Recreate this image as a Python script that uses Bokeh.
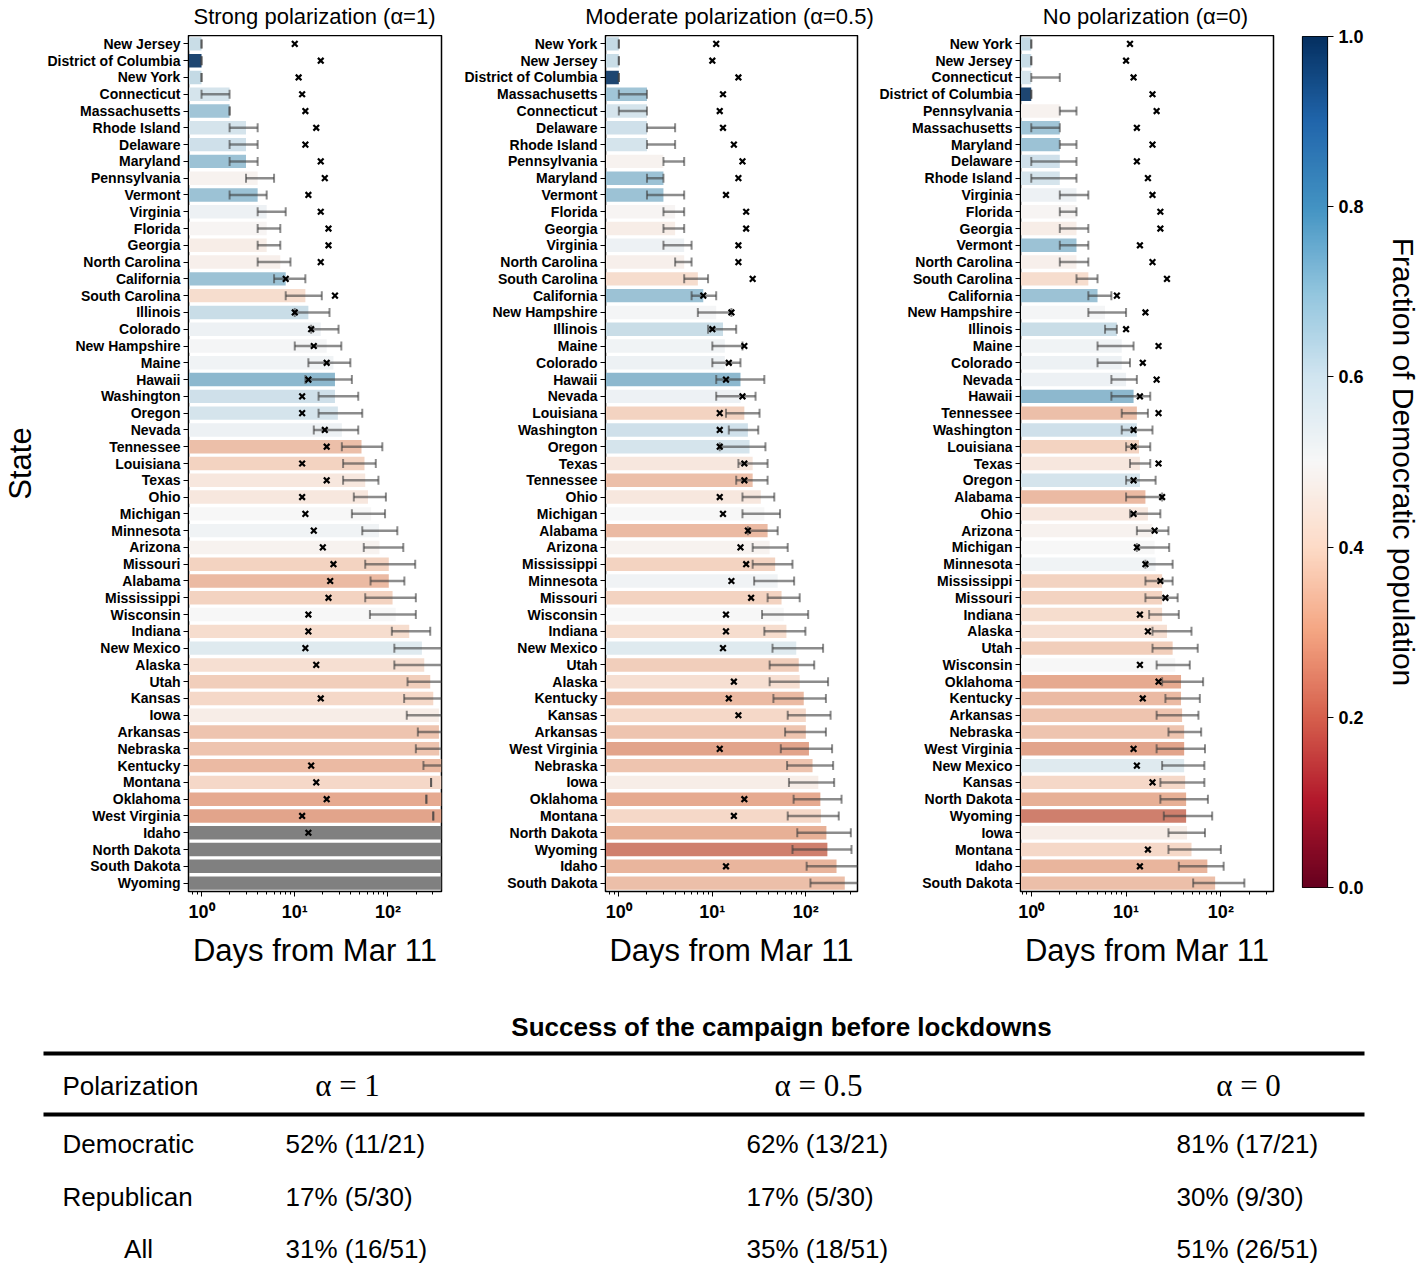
import colorsys
import numpy as np
from bokeh.plotting import figure
from bokeh.models import (FactorRange, Range1d, FixedTicker, ColumnDataSource,
                          LinearColorMapper, NumeralTickFormatter)
from bokeh.layouts import column, row
from bokeh.embed import file_html
from bokeh.resources import INLINE
from bokeh.core.properties import value

nan = np.nan

# ---------------- data ----------------
STATES = ["Alabama", "Alaska", "Arizona", "Arkansas", "California", "Colorado", "Connecticut",
          "Delaware", "District of Columbia", "Florida", "Georgia", "Hawaii", "Idaho", "Illinois",
          "Indiana", "Iowa", "Kansas", "Kentucky", "Louisiana", "Maine", "Maryland",
          "Massachusetts", "Michigan", "Minnesota", "Mississippi", "Missouri", "Montana",
          "Nebraska", "Nevada", "New Hampshire", "New Jersey", "New Mexico", "New York",
          "North Carolina", "North Dakota", "Ohio", "Oklahoma", "Oregon", "Pennsylvania",
          "Rhode Island", "South Carolina", "South Dakota", "Tennessee", "Texas", "Utah",
          "Vermont", "Virginia", "Washington", "West Virginia", "Wisconsin", "Wyoming"]
DEM_FRACTION = [0.33, 0.41, 0.48, 0.35, 0.70, 0.53, 0.60,
                0.61, 0.96, 0.49, 0.46, 0.72, 0.32, 0.62,
                0.40, 0.46, 0.39, 0.33, 0.38, 0.52, 0.70,
                0.69, 0.50, 0.52, 0.38, 0.38, 0.39,
                0.35, 0.53, 0.51, 0.62, 0.57, 0.63,
                0.47, 0.31, 0.44, 0.30, 0.60, 0.48,
                0.60, 0.40, 0.34, 0.34, 0.44, 0.37,
                0.70, 0.53, 0.61, 0.29, 0.50, 0.23]
LOCKDOWN_DAY = [24, 17, 20, nan, 8, 15, 12,
                13, 19, 23, 23, 14, 14, 10,
                14, nan, 19, 15, 12, 22, 19,
                13, 13, 16, 23, 26, 17,
                nan, 21, 16, 10, 13, 11,
                19, nan, 12, 22, 12, 21,
                17, 27, nan, 22, 22, nan,
                14, 19, 12, 12, 14, nan]

# alpha = 1 (strong polarization); NaN median = never reached
ORDER_A1 = ["New Jersey", "District of Columbia", "New York", "Connecticut", "Massachusetts",
            "Rhode Island", "Delaware", "Maryland", "Pennsylvania", "Vermont", "Virginia",
            "Florida", "Georgia", "North Carolina", "California", "South Carolina", "Illinois",
            "Colorado", "New Hampshire", "Maine", "Hawaii", "Washington", "Oregon", "Nevada",
            "Tennessee", "Louisiana", "Texas", "Ohio", "Michigan", "Minnesota", "Arizona",
            "Missouri", "Alabama", "Mississippi", "Wisconsin", "Indiana", "New Mexico", "Alaska",
            "Utah", "Kansas", "Iowa", "Arkansas", "Nebraska", "Kentucky", "Montana", "Oklahoma",
            "West Virginia", "Idaho", "North Dakota", "South Dakota", "Wyoming"]
MEDIAN_A1 = [1, 1, 1, 2, 2, 3, 3, 3, 4, 4, 5, 5, 5, 7, 8, 13, 14, 19, 22, 26, 27, 27, 29, 32,
             52, 56, 57, 61, 66, 80, 81, 102, 102, 112, 121, 169, 231, 245, 284, 306, 352, 352,
             355, 400, 400, 400, 400, nan, nan, nan, nan]
LOW_A1 = [1, 1, 1, 1, 2, 2, 2, 2, 3, 2, 4, 4, 4, 4, 6, 8, 10, 15, 10, 14, 13, 18, 18, 16,
          32, 33, 33, 43, 41, 53, 55, 57, 65, 57, 64, 110, 117, 117, 162, 149, 159, 209,
          199, 240, 290, 258, 306, nan, nan, nan, nan]
HIGH_A1 = [1, 1, 1, 2, 2, 4, 4, 4, 6, 5, 8, 7, 7, 9, 13, 19.5, 23.6, 29.5, 31.6, 39.5, 41, 48,
           53, 48, 87, 74, 79, 95, 93, 126, 146, 196, 150, 199, 199, 284, 500, 500, 500, 500,
           500, 500, 500, 500, 290, 258, 306, nan, nan, nan, nan]

# alpha = 0.5 (moderate polarization)
ORDER_A05 = ["New York", "New Jersey", "District of Columbia", "Massachusetts", "Connecticut",
             "Delaware", "Rhode Island", "Pennsylvania", "Maryland", "Vermont", "Florida",
             "Georgia", "Virginia", "North Carolina", "South Carolina", "California",
             "New Hampshire", "Illinois", "Maine", "Colorado", "Hawaii", "Nevada", "Louisiana",
             "Washington", "Oregon", "Texas", "Tennessee", "Ohio", "Michigan", "Alabama",
             "Arizona", "Mississippi", "Minnesota", "Missouri", "Wisconsin", "Indiana",
             "New Mexico", "Utah", "Alaska", "Kentucky", "Kansas", "Arkansas", "West Virginia",
             "Nebraska", "Iowa", "Oklahoma", "Montana", "North Dakota", "Wyoming", "Idaho",
             "South Dakota"]
MEDIAN_A05 = [1, 1, 1, 2, 2, 2, 2, 3, 3, 3, 4, 4, 5, 5, 7, 8, 11, 13, 13.6, 13.6, 20, 20, 22,
              24, 25, 27, 27, 33, 36, 39, 41, 47, 50, 55, 58, 62, 79, 84, 86, 95, 100, 100, 108,
              118, 136, 143, 145, 166, 170, 213, 261]
LOW_A05 = [1, 1, 1, 1, 1, 2, 2, 3, 2, 2, 3, 3, 3, 4, 5, 6, 7, 9, 10, 10, 11, 11, 14, 15, 12,
           19, 18, 21, 21, 24, 27, 27, 28, 39, 34, 36, 44, 41, 41, 45, 64, 60, 54, 63, 66, 74,
           64, 81, 72, 102, 112]
HIGH_A05 = [1, 1, 1, 2, 2, 4, 4, 5, 3, 5, 5, 5, 6, 6, 9, 11, 16, 18, 21, 20, 36, 29, 32, 31,
            37, 39, 39, 46, 53, 50, 64, 72, 75, 86, 106, 99, 153, 123, 173, 164, 184, 164, 191,
            196, 201, 241, 225, 303, 308, 500, 500]

# alpha = 0 (no polarization)
ORDER_A0 = ["New York", "New Jersey", "Connecticut", "District of Columbia", "Pennsylvania",
            "Massachusetts", "Maryland", "Delaware", "Rhode Island", "Virginia", "Florida",
            "Georgia", "Vermont", "North Carolina", "South Carolina", "California",
            "New Hampshire", "Illinois", "Maine", "Colorado", "Nevada", "Hawaii", "Tennessee",
            "Washington", "Louisiana", "Texas", "Oregon", "Alabama", "Ohio", "Arizona",
            "Michigan", "Minnesota", "Mississippi", "Missouri", "Indiana", "Alaska", "Utah",
            "Wisconsin", "Oklahoma", "Kentucky", "Arkansas", "Nebraska", "West Virginia",
            "New Mexico", "Kansas", "North Dakota", "Wyoming", "Iowa", "Montana", "Idaho",
            "South Dakota"]
MEDIAN_A0 = [1, 1, 1, 1, 2, 2, 2, 2, 2, 3, 3, 3, 3, 3, 4, 5, 6, 8, 9, 9, 10, 12, 13, 13, 13.7,
             14, 14, 16, 17, 19, 20, 20.5, 24, 24, 24, 27, 31, 33, 38, 38, 39, 41, 41, 41, 42,
             43, 43, 44, 49, 72, 87]
LOW_A0 = [1, 1, 1, 1, 2, 1, 2, 1, 1, 2, 2, 2, 2, 2, 3, 4, 4, 6, 5, 5, 7, 7, 9, 9, 10, 11, 10,
          10, 11, 13, 13, 16, 16, 16, 17.5, 19, 19, 21, 24, 26, 21, 28, 21, 24, 23, 23, 25, 28,
          28, 36, 51]
HIGH_A0 = [1, 1, 2, 1, 3, 2, 3, 3, 3, 4, 3, 4, 4, 4, 5, 7, 10, 8, 12, 11, 13, 18, 17, 19, 18,
           18, 20.5, 24, 23, 28, 28.5, 31, 31, 35, 36, 49, 57, 47, 65, 60, 58, 62, 68, 67, 67,
           73, 81, 68, 100, 107, 177]

PANEL_TITLES = ["Strong polarization (\u03b1=1)", "Moderate polarization (\u03b1=0.5)",
                "No polarization (\u03b1=0)"]

TABLE_TITLE = "Success of the campaign before lockdowns"
TABLE_HEADER = "Polarization"
TABLE_COLUMNS = ["\u03b1 = 1", "\u03b1 = 0.5", "\u03b1 = 0"]
TABLE_ROWS = ["Democratic", "Republican", "All"]
TABLE_CELLS = [["52% (11/21)", "62% (13/21)", "81% (17/21)"],
               ["17% (5/30)", "17% (5/30)", "30% (9/30)"],
               ["31% (16/51)", "35% (18/51)", "51% (26/51)"]]

# ---------------- colours ----------------
RDBU = ["#67001f", "#b2182b", "#d6604d", "#f4a582", "#fddbc7", "#f7f7f7",
        "#d1e5f0", "#92c5de", "#4393c3", "#2166ac", "#053061"]
_rgb = np.array([[int(c[i:i + 2], 16) for i in (1, 3, 5)] for c in RDBU], dtype=float)
_pos = np.linspace(0, 1, len(RDBU))


def cmap(f):
    return [np.interp(f, _pos, _rgb[:, k]) for k in range(3)]


def to_hex(rgb):
    return "#%02x%02x%02x" % tuple(int(round(max(0, min(255, v)))) for v in rgb)


def desaturate(rgb, prop=0.75):
    h, l, s = colorsys.rgb_to_hls(*(v / 255.0 for v in rgb))
    r, g, b = colorsys.hls_to_rgb(h, l, s * prop)
    return [r * 255, g * 255, b * 255]


FRAC = dict(zip(STATES, DEM_FRACTION))
LOCK = dict(zip(STATES, LOCKDOWN_DAY))
PALETTE = [to_hex(cmap(f)) for f in np.linspace(0, 1, 256)]

FONT = "Liberation Sans"
NEVER = 1e4
BAR_BASE = 0.1
ORIGIN = 2          # page position of the layout's top-left corner
PAGE_W = 1414
CB_W = 138
FRAME_H = 856
HEADER_H = 35
BOTTOM_H = 90


def make_panel(order, med, lo, hi, x_start, x_end, border_left, frame_w, state_label):
    med = np.array(med, dtype=float)
    colors = ["#808080" if np.isnan(m) else to_hex(desaturate(cmap(FRAC[s])))
              for s, m in zip(order, med)]
    src = ColumnDataSource(dict(
        state=order,
        right=np.where(np.isnan(med), NEVER, med),
        color=colors,
        lo=np.array(lo, dtype=float),
        hi=np.array(hi, dtype=float),
        lock=np.array([LOCK[s] for s in order], dtype=float),
    ))
    p = figure(y_range=FactorRange(factors=order[::-1]), x_axis_type="log",
               x_range=Range1d(x_start, x_end), frame_width=frame_w, frame_height=FRAME_H,
               min_border_left=border_left, min_border_right=4, min_border_top=0,
               min_border_bottom=BOTTOM_H, output_backend="svg", toolbar_location=None)
    p.hbar(y="state", left=BAR_BASE, right="right", height=0.8, fill_color="color",
           line_color=None, source=src)
    p.segment(x0="lo", y0="state", x1="hi", y1="state", line_color="#404040",
              line_alpha=0.6, line_width=2.5, source=src)
    for col in ("lo", "hi"):
        p.scatter(x=col, y="state", marker="dash", angle=np.pi / 2, size=9,
                  line_color="#404040", line_alpha=0.6, line_width=2, source=src)
    p.scatter(x="lock", y="state", marker="x", size=8, line_color="black",
              line_width=2.2, source=src)

    p.grid.visible = False
    p.outline_line_color = "black"
    p.outline_line_width = 1.5
    p.outline_line_alpha = 1

    xa = p.xaxis[0]
    xa.ticker = FixedTicker(ticks=[1, 10, 100],
                            minor_ticks=[0.8, 0.9, 2, 3, 4, 5, 6, 7, 8, 9,
                                         20, 30, 40, 50, 60, 70, 80, 90, 200, 300])
    xa.major_label_overrides = {1: "10\u2070", 10: "10\u00b9", 100: "10\u00b2"}
    xa.major_label_text_font = FONT
    xa.major_label_text_font_size = "18px"
    xa.major_label_text_font_style = "bold"
    xa.major_label_text_color = "black"
    xa.major_tick_out = 5
    xa.major_tick_in = 0
    xa.minor_tick_out = 3
    xa.minor_tick_in = 0
    xa.axis_line_color = "black"
    xa.major_tick_line_color = "black"
    xa.minor_tick_line_color = "black"
    xa.axis_label = "Days from Mar 11"
    xa.axis_label_text_font = FONT
    xa.axis_label_text_font_size = "31px"
    xa.axis_label_text_font_style = "normal"
    xa.axis_label_text_color = "black"
    xa.axis_label_standoff = 8

    ya = p.yaxis[0]
    ya.major_label_text_font = FONT
    ya.major_label_text_font_size = "14px"
    ya.major_label_text_font_style = "bold"
    ya.major_label_text_color = "black"
    ya.major_tick_out = 5
    ya.major_tick_in = 0
    ya.major_tick_line_color = "black"
    ya.axis_line_color = "black"
    ya.major_label_standoff = 3
    if state_label:
        ya.axis_label = "State"
        ya.axis_label_text_font = FONT
        ya.axis_label_text_font_size = "31px"
        ya.axis_label_text_font_style = "normal"
        ya.axis_label_text_color = "black"
        ya.axis_label_standoff = 6
    return p


p1 = make_panel(ORDER_A1, MEDIAN_A1, LOW_A1, HIGH_A1, 0.725, 375, 187, 253, True)
p2 = make_panel(ORDER_A05, MEDIAN_A05, LOW_A05, HIGH_A05, 0.72, 357, 160, 252, False)
p3 = make_panel(ORDER_A0, MEDIAN_A0, LOW_A0, HIGH_A0, 0.77, 359, 159, 253, False)

# ---------------- colour bar (spans header + panels) ----------------
CB_TOP = HEADER_H + 1
cb = figure(x_range=Range1d(0, 1), y_range=Range1d(0, 1), frame_width=25, frame_height=851,
            min_border_left=25, min_border_right=CB_W - 50, min_border_top=CB_TOP,
            min_border_bottom=HEADER_H + FRAME_H + BOTTOM_H - CB_TOP - 851,
            x_axis_location=None, y_axis_location="right", toolbar_location=None,
            output_backend="svg")
mapper = LinearColorMapper(palette=PALETTE, low=0, high=1)
cb.image(image=[np.linspace(0, 1, 256).reshape(256, 1)], x=0, y=0, dw=1, dh=1,
         color_mapper=mapper)
cb.grid.visible = False
cb.outline_line_color = "black"
cb.outline_line_width = 1.2
cya = cb.yaxis[0]
cya.ticker = FixedTicker(ticks=[0, 0.2, 0.4, 0.6, 0.8, 1.0])
cya.formatter = NumeralTickFormatter(format="0.0")
cya.major_label_text_font = FONT
cya.major_label_text_font_size = "18px"
cya.major_label_text_font_style = "bold"
cya.major_label_text_color = "black"
cya.major_tick_out = 6
cya.major_tick_in = 0
cya.major_tick_line_color = "black"
cya.axis_line_color = None
cya.axis_label = "Fraction of Democratic population"
cya.axis_label_text_font = FONT
cya.axis_label_text_font_size = "30px"
cya.axis_label_text_font_style = "normal"
cya.axis_label_text_color = "black"
cya.axis_label_standoff = 20

# ---------------- panel titles (header strip, page coordinates) ----------------
HDR_W = PAGE_W - CB_W
hdr = figure(x_range=Range1d(ORIGIN, ORIGIN + HDR_W), y_range=Range1d(ORIGIN + HEADER_H, ORIGIN),
             width=HDR_W, height=HEADER_H, min_border=0, toolbar_location=None,
             output_backend="svg", x_axis_location=None, y_axis_location=None)
hdr.grid.visible = False
hdr.outline_line_color = None
hdr.text(x=[316, 731, 1147], y=[18] * 3, text=PANEL_TITLES, text_font=value(FONT),
         text_font_size="22px", text_align="center", text_baseline="middle",
         text_color="black")

# ---------------- table (page coordinates) ----------------
TOP_T = ORIGIN + HEADER_H + FRAME_H + BOTTOM_H
t = figure(x_range=Range1d(ORIGIN, ORIGIN + PAGE_W), y_range=Range1d(1268, TOP_T),
           width=PAGE_W, height=1268 - TOP_T, min_border=0, toolbar_location=None,
           output_backend="svg", x_axis_location=None, y_axis_location=None)
t.grid.visible = False
t.outline_line_color = None

t.text(x=[783], y=[1028], text=[TABLE_TITLE], text_font=value(FONT), text_font_size="26px",
       text_font_style="bold", text_align="center", text_baseline="middle")
t.segment(x0=[45, 45], y0=[1055, 1116], x1=[1366, 1366], y1=[1055, 1116],
          line_color="black", line_width=4)
t.text(x=[64], y=[1087], text=[TABLE_HEADER], text_font=value(FONT), text_font_size="26px",
       text_align="left", text_baseline="middle")
t.text(x=[349, 820, 1250], y=[1087] * 3, text=TABLE_COLUMNS,
       text_font=value("Liberation Serif"), text_font_size="31px",
       text_align="center", text_baseline="middle")
row_y = [1145, 1198, 1250]
t.text(x=[64, 64, 140], y=row_y, text=TABLE_ROWS, text_font=value(FONT),
       text_font_size="26px", text_align=["left", "left", "center"], text_baseline="middle")
col_x = [287, 748, 1178]
for j, cx in enumerate(col_x):
    t.text(x=[cx] * 3, y=row_y, text=[TABLE_CELLS[i][j] for i in range(3)],
           text_font=value(FONT), text_font_size="26px", text_align="left",
           text_baseline="middle")

layout = column(row(column(hdr, row(p1, p2, p3)), cb), t)
open("out.html", "w").write(file_html(layout, INLINE))
